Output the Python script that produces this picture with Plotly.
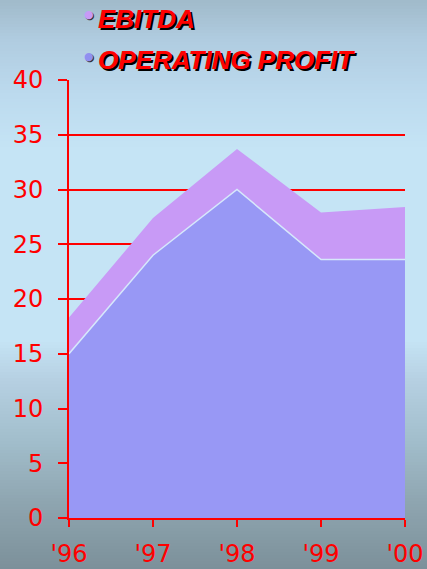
import plotly.graph_objects as go

# ---- data ----
years = ["'96", "'97", "'98", "'99", "'00"]
operating_profit = [15.0, 24.0, 30.0, 23.6, 23.6]
ebitda = [18.3, 27.4, 33.7, 27.9, 28.4]
y_ticks = [0, 5, 10, 15, 20, 25, 30, 35, 40]

W, H = 427, 569
L, R, T, B = 69, 22, 80, 51
pw, ph = W - L - R, H - T - B

def px_to_paper_y(py):
    return (H - B - py) / ph

def px_to_paper_x(px):
    return (px - L) / pw

fig = go.Figure()
fig.add_trace(go.Scatter(
    x=years, y=ebitda, mode="lines", fill="tozeroy",
    fillcolor="#c89af6", line=dict(color="#c89af6", width=0),
    name="EBITDA", showlegend=False, hoverinfo="skip"))
fig.add_trace(go.Scatter(
    x=years, y=operating_profit, mode="lines", fill="tozeroy",
    fillcolor="#9898f5", line=dict(color="#d6e8fb", width=1.5),
    name="OPERATING PROFIT", showlegend=False, hoverinfo="skip"))

# ---- background gradient as bands ----
stops = [(0, (160, 186, 202)), (40, (176, 204, 224)), (95, (188, 218, 238)),
         (150, (197, 228, 245)), (340, (197, 228, 245)), (380, (182, 208, 226)),
         (440, (162, 190, 204)), (500, (143, 166, 177)), (569, (124, 144, 154))]

def color_at(py):
    for (y0, c0), (y1, c1) in zip(stops[:-1], stops[1:]):
        if y0 <= py <= y1:
            t = (py - y0) / (y1 - y0)
            return "rgb(%d,%d,%d)" % tuple(round(a + (b - a) * t) for a, b in zip(c0, c1))
    return "rgb(%d,%d,%d)" % (stops[-1][1] if py > 0 else stops[0][1])

shapes = []
step = 3
for py in range(0, H + 3, step):
    top = py if py > 0 else -10
    shapes.append(dict(
        type="rect", xref="paper", yref="paper", layer="below",
        x0=-0.4, x1=1.3, y0=px_to_paper_y(py + step + 1), y1=px_to_paper_y(top),
        fillcolor=color_at(py + step / 2), line=dict(width=0)))

# ---- legend as annotations ----
legend_font = dict(family="Liberation Sans, Arial, sans-serif", size=26, color="#ff0000",
                   weight="bold", style="italic", shadow="2px 2px 0px #000000")
annotations = []
for label, col, py in [("EBITDA", "#c89af6", 19), ("OPERATING PROFIT", "#9090f0", 60)]:
    annotations.append(dict(
        text=label, xref="paper", yref="paper", x=px_to_paper_x(96), y=px_to_paper_y(py),
        xanchor="left", yanchor="middle", showarrow=False, font=legend_font))
    annotations.append(dict(
        text="●", xref="paper", yref="paper", x=px_to_paper_x(89), y=px_to_paper_y(py - 4),
        xanchor="center", yanchor="middle", showarrow=False,
        font=dict(family="DejaVu Sans", size=11, color=col, shadow="1px 1px 0px #333")))

tick_font = dict(family="DejaVu Sans, Verdana, sans-serif", size=24, color="#ff0000")

fig.update_layout(
    width=W, height=H, margin=dict(l=L, r=R, t=T, b=B, autoexpand=False),
    paper_bgcolor="rgba(0,0,0,0)", plot_bgcolor="rgba(0,0,0,0)",
    shapes=shapes, annotations=annotations, showlegend=False,
    xaxis=dict(type="category", range=[0, 4], showgrid=False, showline=True,
               linecolor="#ff0000", linewidth=2, ticks="outside", ticklen=7,
               tickcolor="#ff0000", tickwidth=2, tickfont=tick_font, automargin=False,
               ticklabelstandoff=6, zeroline=False, fixedrange=True),
    yaxis=dict(range=[0, 40], tickvals=y_ticks, showgrid=True, gridcolor="#ff0000",
               gridwidth=2, showline=True, linecolor="#ff0000", linewidth=2,
               ticks="outside", ticklen=9, tickcolor="#ff0000", tickwidth=2, automargin=False,
               tickfont=tick_font, ticklabelstandoff=10, zeroline=False, fixedrange=True),
)

fig.write_html("out.html", config={"displayModeBar": False})

with open("out.html", "r", encoding="utf-8") as f:
    html = f.read()
html = html.replace("<head>", "<head><style>html,body{margin:0;padding:0;overflow:hidden;background:#7c909a}</style>", 1)
with open("out.html", "w", encoding="utf-8") as f:
    f.write(html)
